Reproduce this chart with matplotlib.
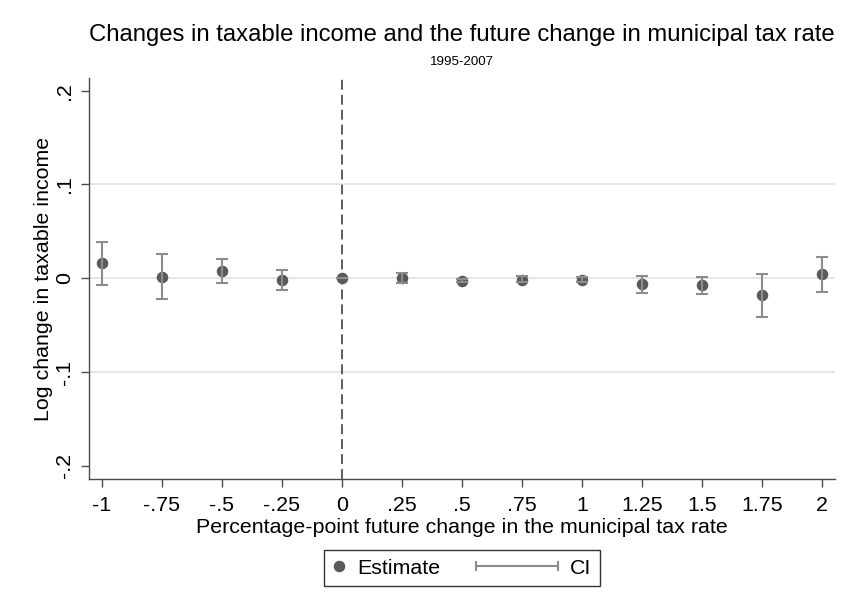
import numpy as np
import matplotlib
matplotlib.use('Agg')
import matplotlib.pyplot as plt
from matplotlib.lines import Line2D
from matplotlib.legend_handler import HandlerLine2D

plt.rcParams["font.family"] = ["Liberation Sans", "DejaVu Sans"]

# future change in municipal tax rate (percentage points)
rate_change = [-1, -0.75, -0.5, -0.25, 0, 0.25, 0.5, 0.75, 1, 1.25, 1.5, 1.75, 2]
estimate = [0.0166, 0.0014, 0.0078, -0.0015, 0.0, 0.0007, -0.0030, -0.0015,
            -0.0020, -0.0057, -0.0071, -0.0178, 0.0046]
ci_low = [-0.0068, -0.0224, -0.0047, -0.0121, 0.0, -0.0047, -0.0045, -0.0045,
          -0.0045, -0.0153, -0.0164, -0.0413, -0.0143]
ci_high = [0.0390, 0.0259, 0.0203, 0.0085, 0.0, 0.0060, -0.0010, 0.0020,
           0.0010, 0.0028, 0.0017, 0.0049, 0.0224]

xtick_vals = rate_change
xtick_labels = ['-1', '-.75', '-.5', '-.25', '0', '.25', '.5', '.75', '1',
                '1.25', '1.5', '1.75', '2']
ytick_vals = [-0.2, -0.1, 0, 0.1, 0.2]
ytick_labels = ['-.2', '-.1', '0', '.1', '.2']
grid_vals = [-0.1, 0, 0.1]

mark_col = '#5a5a5a'
ci_col = '#8c8c8c'
axis_col = '#4a4a4a'
fs = 15.4


class CIHandler(HandlerLine2D):
    # capped line that reaches back into the column spacing
    def get_xdata(self, legend, xdescent, ydescent, width, height, fontsize):
        x0 = -xdescent - 3.25 * fontsize
        x1 = width - xdescent
        return np.array([x0, x1]), np.array([x0, x1])


fig = plt.figure(figsize=(8.47, 6.14), dpi=100)
ax = fig.add_axes([89 / 847, 1 - 479 / 614, (835 - 89) / 847, (479 - 78) / 614])

x = np.array(rate_change)
est = np.array(estimate)
lo = np.array(ci_low)
hi = np.array(ci_high)

for g in grid_vals:
    ax.axhline(g, color='#e4e4e4', lw=1.3, zorder=0)
ax.axvline(0, color='#333333', lw=1.1, dashes=(6.5, 3.3), zorder=1)

ax.plot(x, est, 'o', color=mark_col, ms=7.3, zorder=2, label='Estimate')
ax.errorbar(x, est, yerr=[est - lo, hi - est], fmt='none', ecolor=ci_col,
            elinewidth=1.5, capsize=4, capthick=1.5, zorder=3)

ax.set_xlim(-1.054, 2.054)
ax.set_ylim(-0.214, 0.2135)
ax.set_xticks(xtick_vals)
ax.set_xticklabels(xtick_labels, fontsize=fs)
ax.set_yticks(ytick_vals)
ax.set_yticklabels(ytick_labels, fontsize=fs, rotation=90, va='center')
ax.tick_params(axis='both', length=5.5, width=1, color=axis_col)
ax.tick_params(axis='x', pad=7)
ax.tick_params(axis='y', pad=5)

for s in ['top', 'right']:
    ax.spines[s].set_visible(False)
for s in ['left', 'bottom']:
    ax.spines[s].set_color(axis_col)
    ax.spines[s].set_linewidth(1.0)

ax.set_xlabel('Percentage-point future change in the municipal tax rate',
              fontsize=fs, labelpad=2)
ax.set_ylabel('Log change in taxable income', fontsize=fs, labelpad=2)

fig.text(0.5455, 1 - 35 / 614, 'Changes in taxable income and the future change in municipal tax rate',
         ha='center', va='center', fontsize=17.2)
fig.text(0.5455, 1 - 62 / 614, '1995-2007', ha='center', va='center', fontsize=9.6)

h_est = Line2D([], [], ls='none', marker='o', color=mark_col, ms=7.3)
h_ci = Line2D([], [], color=ci_col, lw=1.5, marker='|', ms=7, mew=1.5)
leg = fig.legend([h_est, h_ci], ['Estimate', 'CI'], loc='center',
                 bbox_to_anchor=(462 / 847, 1 - 568 / 614), ncol=2, fontsize=fs,
                 handlelength=0.6, handletextpad=0.54, columnspacing=4.9,
                 borderpad=0.42, fancybox=False, edgecolor='black',
                 handler_map={h_ci: CIHandler(numpoints=2),
                              h_est: HandlerLine2D(numpoints=1)})
leg.get_frame().set_linewidth(1.0)

plt.savefig('out.png', dpi=100)
